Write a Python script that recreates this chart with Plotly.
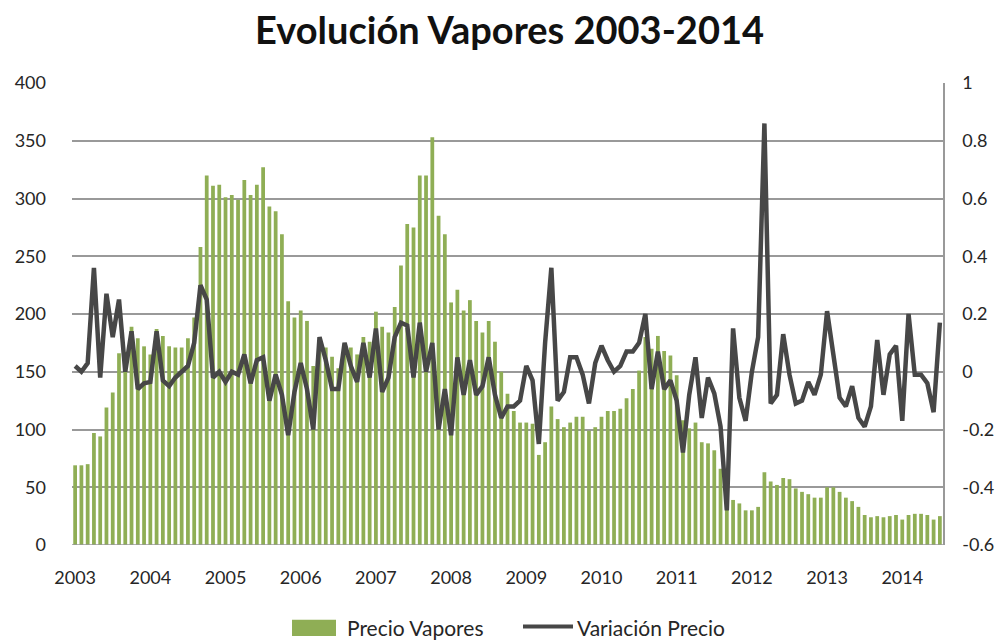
import pandas as pd
import plotly.graph_objects as go

# Monthly categories, Jan 2003 - Jul 2014
months = [d.strftime("%Y-%m") for d in pd.date_range("2003-01-01", "2014-07-01", freq="MS")]
year_ticks = [m for m in months if m.endswith("-01")]
year_labels = [m[:4] for m in year_ticks]

# Precio Vapores (left axis)
precio_2003 = [69, 69, 70, 97, 94, 119, 132, 166, 167, 189, 179, 172]
precio_2004 = [165, 187, 181, 172, 171, 171, 179, 197, 258, 320, 311, 312]
precio_2005 = [301, 303, 299, 316, 303, 312, 327, 293, 289, 269, 211, 197]
precio_2006 = [203, 194, 155, 172, 171, 163, 153, 168, 171, 165, 180, 176]
precio_2007 = [202, 189, 184, 206, 242, 278, 275, 320, 320, 353, 285, 269]
precio_2008 = [210, 221, 203, 212, 194, 184, 194, 176, 150, 131, 116, 106]
precio_2009 = [106, 105, 78, 89, 120, 109, 102, 106, 111, 111, 99, 102]
precio_2010 = [111, 116, 116, 118, 127, 135, 151, 180, 170, 181, 168, 164]
precio_2011 = [147, 108, 101, 106, 89, 88, 82, 66, 34, 39, 36, 30]
precio_2012 = [30, 33, 63, 55, 52, 58, 57, 49, 46, 44, 41, 41]
precio_2013 = [50, 50, 46, 41, 38, 33, 26, 24, 25, 24, 25, 26]
precio_2014 = [22, 26, 27, 27, 26, 22, 25]

# Variación Precio (right axis)
var_2003 = [0.02, 0.0, 0.03, 0.36, -0.02, 0.27, 0.12, 0.25, 0.0, 0.14, -0.06, -0.04]
var_2004 = [-0.035, 0.14, -0.03, -0.05, -0.02, 0.0, 0.02, 0.10, 0.30, 0.25, -0.02, 0.0]
var_2005 = [-0.035, 0.0, -0.01, 0.06, -0.04, 0.04, 0.05, -0.10, -0.01, -0.08, -0.22, -0.07]
var_2006 = [0.03, -0.06, -0.20, 0.12, 0.04, -0.06, -0.06, 0.10, 0.02, -0.035, 0.10, -0.02]
var_2007 = [0.15, -0.07, -0.02, 0.12, 0.17, 0.16, -0.02, 0.17, 0.0, 0.10, -0.20, -0.06]
var_2008 = [-0.22, 0.05, -0.08, 0.04, -0.08, -0.05, 0.05, -0.08, -0.16, -0.12, -0.12, -0.10]
var_2009 = [0.02, -0.03, -0.25, 0.10, 0.36, -0.10, -0.07, 0.05, 0.05, -0.01, -0.11, 0.03]
var_2010 = [0.09, 0.04, 0.0, 0.02, 0.07, 0.07, 0.10, 0.20, -0.06, 0.07, -0.06, -0.03]
var_2011 = [-0.10, -0.28, -0.08, 0.05, -0.16, -0.02, -0.075, -0.19, -0.48, 0.15, -0.09, -0.17]
var_2012 = [0.0, 0.12, 0.86, -0.11, -0.08, 0.13, -0.01, -0.11, -0.10, -0.035, -0.08, -0.01]
var_2013 = [0.21, 0.06, -0.09, -0.12, -0.05, -0.16, -0.19, -0.12, 0.11, -0.08, 0.06, 0.09]
var_2014 = [-0.17, 0.20, -0.01, -0.01, -0.04, -0.14, 0.17]

precio = (precio_2003 + precio_2004 + precio_2005 + precio_2006 + precio_2007 + precio_2008
          + precio_2009 + precio_2010 + precio_2011 + precio_2012 + precio_2013 + precio_2014)
variacion = (var_2003 + var_2004 + var_2005 + var_2006 + var_2007 + var_2008
             + var_2009 + var_2010 + var_2011 + var_2012 + var_2013 + var_2014)

left_ticks = [0, 50, 100, 150, 200, 250, 300, 350, 400]
right_ticks = [-0.6, -0.4, -0.2, 0, 0.2, 0.4, 0.6, 0.8, 1]
right_labels = ["-0.6", "-0.4", "-0.2", "0", "0.2", "0.4", "0.6", "0.8", "1"]

FONT = "Lato, 'Open Sans', sans-serif"
TEXT = "#262626"
GRID = "#999999"
BAR_COLOR = "#8fae55"
LINE_COLOR = "#474747"

fig = go.Figure()
fig.add_trace(go.Bar(
    x=months, y=precio, name="Precio Vapores",
    marker=dict(color=BAR_COLOR, line=dict(width=0)),
    yaxis="y", showlegend=False,
))
fig.add_trace(go.Scatter(
    x=months, y=variacion, name="Variación Precio",
    mode="lines", line=dict(color=LINE_COLOR, width=4.5),
    yaxis="y2", showlegend=False,
))

fig.update_layout(
    width=1007, height=641,
    margin=dict(l=72, r=64, t=83, b=96),
    paper_bgcolor="white", plot_bgcolor="white",
    font=dict(family=FONT, color=TEXT),
    bargap=0.4,
    title=dict(text="<b>Evolución Vapores 2003-2014</b>", x=0.506, xanchor="center",
               y=1 - 31 / 641, yanchor="middle", yref="container",
               font=dict(size=38, family=FONT, color="#111111")),
    xaxis=dict(type="category", tickmode="array", tickvals=year_ticks, ticktext=year_labels,
               showgrid=False, showline=False, ticks="", zeroline=False, automargin=False,
               ticklabelstandoff=20,
               tickfont=dict(size=18, color=TEXT), range=[-0.5, len(months) - 0.5]),
    yaxis=dict(range=[0, 400], tickvals=left_ticks, showgrid=True, gridcolor=GRID, gridwidth=1.5,
               zeroline=False, showline=False, ticks="", ticklabelstandoff=25, automargin=False,
               tickfont=dict(size=18, color=TEXT)),
    yaxis2=dict(range=[-0.6, 1], tickvals=right_ticks, ticktext=right_labels, overlaying="y",
                side="right", showgrid=False, zeroline=False, showline=True, automargin=False,
                linecolor=GRID, linewidth=1.5, ticks="", ticklabelstandoff=14,
                tickfont=dict(size=18, color=TEXT)),
)

# baseline along the category axis
fig.add_shape(type="line", xref="paper", yref="y", x0=0, x1=1, y0=0, y1=0,
              line=dict(color=GRID, width=1.5))

# legend below the plot: wide swatch for the bars, short stroke for the line
fig.add_shape(type="rect", xref="paper", yref="paper", x0=0.2526, x1=0.3031, y0=-0.197, y1=-0.162,
              fillcolor=BAR_COLOR, line=dict(width=0))
fig.add_annotation(text="Precio Vapores", xref="paper", yref="paper", x=0.3134, y=-0.1785,
                   xanchor="left", yanchor="middle", showarrow=False,
                   font=dict(size=21, color=TEXT, family=FONT))
fig.add_shape(type="line", xref="paper", yref="paper", x0=0.5178, x1=0.5752, y0=-0.1765, y1=-0.1765,
              line=dict(color=LINE_COLOR, width=4))
fig.add_annotation(text="Variación Precio", xref="paper", yref="paper", x=0.5775, y=-0.1785,
                   xanchor="left", yanchor="middle", showarrow=False,
                   font=dict(size=21, color=TEXT, family=FONT))

fig.write_html("out.html")
